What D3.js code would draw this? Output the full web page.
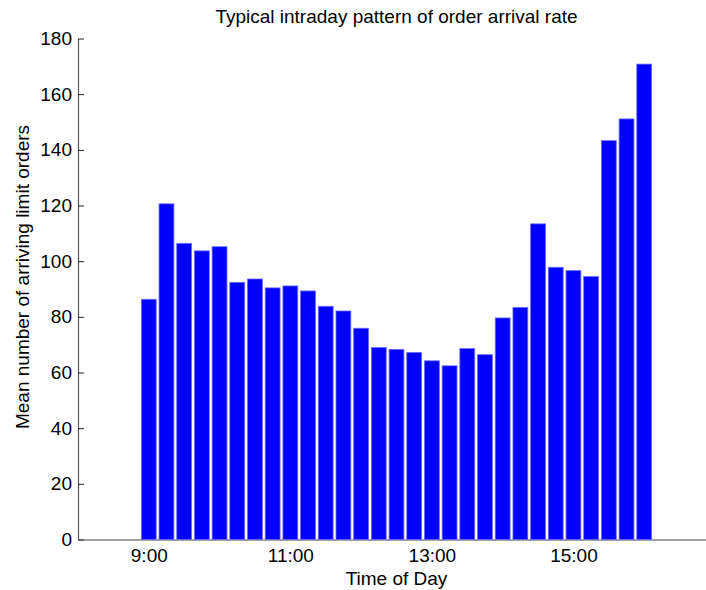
<!DOCTYPE html>
<html>
<head>
<meta charset="utf-8">
<script src="https://cdn.jsdelivr.net/npm/d3@7"></script>
<style>
  html, body { margin: 0; padding: 0; background: #fff; }
  svg { display: block; }
  text { font-family: "Liberation Sans", Arial, sans-serif; fill: #000; }
</style>
</head>
<body>
<script>
// Bin centers (hours of day, 15-minute bins starting 9:00)
const binHours = [9.00, 9.25, 9.50, 9.75, 10.00, 10.25, 10.50, 10.75, 11.00, 11.25,
                  11.50, 11.75, 12.00, 12.25, 12.50, 12.75, 13.00, 13.25, 13.50, 13.75,
                  14.00, 14.25, 14.50, 14.75, 15.00, 15.25, 15.50, 15.75, 16.00];
const meanOrders = [86.3, 120.6, 106.4, 103.7, 105.2, 92.4, 93.6, 90.4, 91.1, 89.3,
                    83.8, 82.1, 75.9, 69.0, 68.3, 67.2, 64.2, 62.4, 68.6, 66.4,
                    79.6, 83.4, 113.4, 97.8, 96.6, 94.5, 143.3, 151.1, 170.8];
const xTickValues = [9, 11, 13, 15];
const xTickLabels = ["9:00", "11:00", "13:00", "15:00"];
const yTickValues = [0, 20, 40, 60, 80, 100, 120, 140, 160, 180];

(function () {
const W = 706, H = 590;
const mLeft = 78, mRight = 715, mTop = 38.5, mBottom = 539.5;
const FS = 19;

const svg = d3.select("body").append("svg").attr("width", W).attr("height", H);

const x = d3.scaleLinear().domain([8, 17]).range([mLeft, mRight]);
const y = d3.scaleLinear().domain([0, 180]).range([mBottom, mTop]);

const binW = x(9.25) - x(9);
const barW = binW * 0.84;

// Axes (MATLAB style: ticks pointing inward)
const yAxis = svg.append("g").attr("transform", `translate(${mLeft},0)`)
  .call(d3.axisLeft(y).tickValues(yTickValues).tickSizeInner(-6).tickSizeOuter(0).tickPadding(6));
yAxis.select(".domain").attr("stroke", "#555").attr("stroke-width", 1.2);
yAxis.selectAll(".tick line").attr("stroke", "#222");
yAxis.selectAll(".tick text").attr("font-size", FS).attr("font-family", "Liberation Sans, Arial, sans-serif");

const xAxis = svg.append("g").attr("transform", `translate(0,${mBottom})`)
  .call(d3.axisBottom(x).tickValues(xTickValues).tickFormat((d, i) => xTickLabels[i])
        .tickSizeInner(-6).tickSizeOuter(0).tickPadding(9));
xAxis.select(".domain").attr("stroke", "#444").attr("stroke-width", 1.2);
xAxis.selectAll(".tick line").attr("stroke", "#222");
xAxis.selectAll(".tick text").attr("font-size", FS).attr("font-family", "Liberation Sans, Arial, sans-serif");

// Bars
svg.append("g").selectAll("rect")
  .data(meanOrders)
  .join("rect")
  .attr("x", (d, i) => x(binHours[i]) - barW / 2)
  .attr("width", barW)
  .attr("y", d => y(d))
  .attr("height", d => y(0) - y(d))
  .attr("fill", "#0000ff")
  .attr("stroke", "#6b6bff")
  .attr("stroke-width", 0.8);

// Title
svg.append("text")
  .attr("x", (mLeft + mRight) / 2).attr("y", 23)
  .attr("text-anchor", "middle").attr("font-size", FS)
  .text("Typical intraday pattern of order arrival rate");

// X label
svg.append("text")
  .attr("x", (mLeft + mRight) / 2).attr("y", 585)
  .attr("text-anchor", "middle").attr("font-size", FS)
  .text("Time of Day");

// Y label
svg.append("text")
  .attr("transform", `translate(29,${(mTop + mBottom) / 2 - 12}) rotate(-90)`)
  .attr("text-anchor", "middle").attr("font-size", FS)
  .text("Mean number of arriving limit orders");
})();
</script>
</body>
</html>
